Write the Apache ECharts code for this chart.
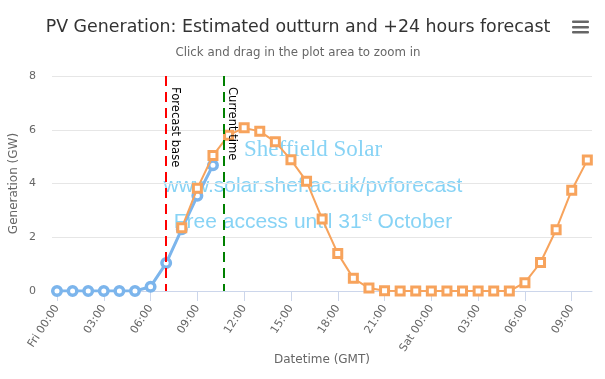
<!DOCTYPE html>
<html>
<head>
<meta charset="utf-8">
<script src="https://cdn.jsdelivr.net/npm/echarts@6/dist/echarts.min.js"></script>
<style>
html,body{margin:0;padding:0;background:#fff;}
#chart{width:605px;height:379px;}
</style>
</head>
<body>
<div id="chart"></div>
<script>
// Hours since Fri 00:00 (GMT)
const outturnHours = [0,1,2,3,4,5,6,7,8,9,10];
const outturnValues = [0,0,0,0,0,0,0.16,1.04,2.3,3.54,4.68];

const forecastHours = [8,9,10,11,12,13,14,15,16,17,18,19,20,21,22,23,24,25,26,27,28,29,30,31,32,33,34];
const forecastValues = [2.35,3.82,5.04,5.8,6.07,5.94,5.55,4.88,4.08,2.68,1.4,0.47,0.11,0.01,0,0,0,0,0,0,0,0,0.31,1.06,2.28,3.75,4.87];

const xTickHours = [0,3,6,9,12,15,18,21,24,27,30,33];
const xTickLabels = ['Fri 00:00','03:00','06:00','09:00','12:00','15:00','18:00','21:00','Sat 00:00','03:00','06:00','09:00'];

const forecastBaseHour = 7;
const currentTimeHour = 10.67;

const FONT = 'DejaVu Sans';
const WM = '#87d3f5';

const chart = echarts.init(document.getElementById('chart'), null, {renderer:'canvas'});

const option = {
  animation: false,
  backgroundColor: '#fff',
  grid: {left: 52, right: 13, top: 76, bottom: 88, containLabel: false, outerBoundsMode: 'none'},
  graphic: [
    {type:'text', x: 298, y: 27, style:{text:'PV Generation: Estimated outturn and +24 hours forecast', fontFamily: FONT, fontSize: 17.4, fill:'#333333', textAlign:'center', textVerticalAlign:'middle'}},
    {type:'text', x: 298, y: 53, style:{text:'Click and drag in the plot area to zoom in', fontFamily: FONT, fontSize: 11.8, fill:'#666666', textAlign:'center', textVerticalAlign:'middle'}},
    {type:'rect', shape:{x:572, y:20.5, width:17, height:2.5, r:1}, style:{fill:'#666666'}},
    {type:'rect', shape:{x:572, y:26, width:17, height:2.5, r:1}, style:{fill:'#666666'}},
    {type:'rect', shape:{x:572, y:31, width:17, height:2.5, r:1}, style:{fill:'#666666'}},
    {type:'text', x: 313, y: 150, z: -1, style:{text:'Sheffield Solar', fontFamily:'Liberation Serif', fontSize: 23, fill: WM, textAlign:'center', textVerticalAlign:'middle'}},
    {type:'text', x: 313, y: 186, z: -1, style:{text:'www.solar.shef.ac.uk/pvforecast', fontFamily:'Liberation Sans', fontSize: 21, fill: WM, textAlign:'center', textVerticalAlign:'middle'}},
    {type:'text', x: 313, y: 222, z: -1, style:{text:'{a|Free access until 31}{s|st}{a| October}', fontFamily:'Liberation Sans', fill: WM, textAlign:'center', textVerticalAlign:'middle',
      rich:{a:{fontFamily:'Liberation Sans', fontSize:21, color: WM}, s:{fontFamily:'Liberation Sans', fontSize:13, color: WM, verticalAlign:'top', padding:[0,0,10,0]}}}}
  ],
  xAxis: {
    type: 'value',
    min: -0.32,
    max: 34.3,
    name: 'Datetime (GMT)',
    nameLocation: 'middle',
    nameGap: 63,
    nameMoveOverlap: false,
    nameTextStyle: {fontFamily: FONT, fontSize: 12, color: '#666666'},
    axisLine: {show: true, lineStyle: {color: '#ccd6eb', width: 1}},
    axisTick: {show: true, length: 10, lineStyle: {color: '#ccd6eb'}, customValues: xTickHours},
    axisLabel: {
      rotate: 57, margin: 15, fontFamily: FONT, fontSize: 11, color: '#666666',
      customValues: xTickHours,
      formatter: function(v){ const i = xTickHours.indexOf(Math.round(v)); return i >= 0 ? xTickLabels[i] : ''; }
    },
    splitLine: {show: false}
  },
  yAxis: {
    type: 'value',
    min: 0, max: 8, interval: 2,
    name: 'Generation (GW)',
    nameLocation: 'middle',
    nameGap: 32,
    nameMoveOverlap: false,
    nameTextStyle: {fontFamily: FONT, fontSize: 12, color: '#666666'},
    axisLine: {show: false},
    axisTick: {show: false},
    axisLabel: {margin: 16, fontFamily: FONT, fontSize: 11, color: '#666666'},
    splitLine: {lineStyle: {color: '#e6e6e6', width: 1}}
  },
  series: [
    {
      name: 'Outturn',
      type: 'line',
      z: 3,
      data: outturnHours.map((h, i) => [h, outturnValues[i]]),
      symbol: 'circle',
      symbolSize: 8.5,
      showSymbol: true,
      lineStyle: {color: '#7cb5ec', width: 3},
      itemStyle: {color: '#ffffff', borderColor: '#7cb5ec', borderWidth: 3.5},
      markLine: {
        silent: true,
        symbol: ['none','none'],
        data: [
          [{coord:[forecastBaseHour, 8], lineStyle:{color:'#ff0000', type:[10,6], width:2}, label:{show:true, formatter:'Forecast base', position:'insideStartTop', distance:[11,3], color:'#000', fontFamily:FONT, fontSize:11.6}}, {coord:[forecastBaseHour, 0]}],
          [{coord:[currentTimeHour, 8], lineStyle:{color:'#008000', type:[10,6], width:2}, label:{show:true, formatter:'Current time', position:'insideStartTop', distance:[11,3], color:'#000', fontFamily:FONT, fontSize:11.6}}, {coord:[currentTimeHour, 0]}]
        ]
      }
    },
    {
      name: 'Forecast',
      type: 'line',
      z: 4,
      data: forecastHours.map((h, i) => [h, forecastValues[i]]),
      symbol: 'rect',
      symbolSize: 8,
      showSymbol: true,
      lineStyle: {color: '#f7a35c', width: 2},
      itemStyle: {color: '#ffffff', borderColor: '#f7a35c', borderWidth: 3}
    }
  ]
};
chart.setOption(option);
</script>
</body>
</html>
